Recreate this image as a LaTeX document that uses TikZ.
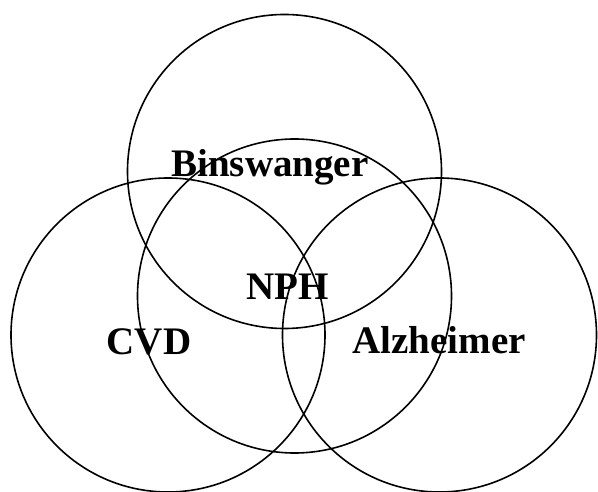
\documentclass[tikz,border=0pt]{standalone}
\usepackage{fontspec}
\setmainfont{Liberation Serif}
\begin{document}
\begin{tikzpicture}[x=1pt,y=-1pt,line width=1.6pt]
        \useasboundingbox (0,0) rectangle (598,492);
        \tikzset{lbl/.style={anchor=base,inner sep=0pt,font=\fontsize{39}{39}\selectfont\bfseries}}

        % circles
        \draw (284.5,171.5) circle (157);
        \draw (294.5,296) circle (157);
        \draw (168,335) circle (157);
        \draw (439.5,335) circle (157);

        % labels
        \draw (270,177) node[lbl] (binsw) {Binswanger};
        \draw (287.5,300) node[lbl] (nph) {NPH};
        \draw (149,354) node[lbl] (cvd) {CVD};
        \draw (439,353) node[lbl] (alz) {Alzheimer};

      \end{tikzpicture}
\end{document}
